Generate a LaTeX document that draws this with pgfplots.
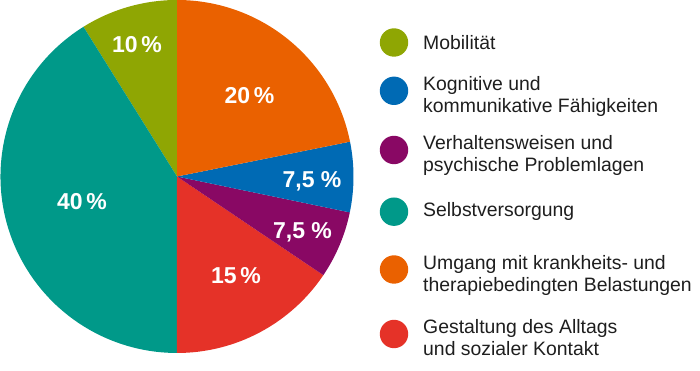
\documentclass[border=0pt]{standalone}
\usepackage{fontspec}
\setmainfont{Liberation Sans}
\usepackage{pgfplots}
\pgfplotsset{compat=1.18}
\definecolor{cMob}{RGB}{143,166,3}
\definecolor{cSelb}{RGB}{0,153,137}
\definecolor{cGest}{RGB}{229,50,40}
\definecolor{cVerh}{RGB}{137,8,100}
\definecolor{cKogn}{RGB}{0,106,180}
\definecolor{cUmg}{RGB}{234,97,0}
\definecolor{txt}{RGB}{30,30,30}
\tikzset{lab/.style={anchor=base, inner sep=0pt, text=white, font=\fontsize{23}{26}\selectfont\bfseries},
  leg/.style={anchor=base west, inner sep=0pt, text=txt, font=\fontsize{19.4}{22}\selectfont}}
\begin{document}
\begin{tikzpicture}
\begin{axis}[hide axis, scale only axis, width=700pt, height=371pt,
  xmin=0, xmax=700, ymin=0, ymax=371, clip=false]
\coordinate (BL) at (axis cs:0,0);
\coordinate (TR) at (axis cs:700,371);
% slices counter-clockwise from the top (share of the circle, in percent)
\gdef\angS{90}
\foreach \v/\c in {8.89/cMob, 41.1/cSelb, 15.57/cGest, 6.18/cVerh, 6.42/cKogn, 21.84/cUmg}{
  \pgfmathsetmacro\angE{\angS+3.6*\v}
  \edef\temp{\noexpand\fill[\c] (axis cs:177,194.5) -- ++(\angS:176.5pt) arc[start angle=\angS, end angle=\angE, radius=176.5pt] -- cycle;}
  \temp
  \xdef\angS{\angE}
}
% slice labels
\node[lab] at (axis cs:137,318) {10\,\%};
\node[lab] at (axis cs:249.5,267) {20\,\%};
\node[lab] at (axis cs:312,183) {7,5 \%};
\node[lab] at (axis cs:302.5,132) {7,5 \%};
\node[lab] at (axis cs:236,87) {15\,\%};
\node[lab] at (axis cs:82,161.7) {40\,\%};
% legend
\fill[cMob]  (axis cs:394,328.5) circle[radius=14.2pt];
\fill[cKogn] (axis cs:394,280.2) circle[radius=14.2pt];
\fill[cVerh] (axis cs:394,221)   circle[radius=14.2pt];
\fill[cSelb] (axis cs:394,159.3) circle[radius=14.2pt];
\fill[cUmg]  (axis cs:394,101.5) circle[radius=14.2pt];
\fill[cGest] (axis cs:394,37)    circle[radius=14.2pt];
\node[leg] at (axis cs:423,321.7) {Mobilität};
\node[leg] at (axis cs:423,280.3) {Kognitive und};
\node[leg] at (axis cs:423,258.3) {kommunikative Fähigkeiten};
\node[leg] at (axis cs:423,221.7) {Verhaltensweisen und};
\node[leg] at (axis cs:423,199.7) {psychische Problemlagen};
\node[leg] at (axis cs:423,154.3) {Selbstversorgung};
\node[leg] at (axis cs:423,101.7) {Umgang mit krankheits- und};
\node[leg] at (axis cs:423,79.7)  {therapiebedingten Belastungen};
\node[leg] at (axis cs:423,37.7)  {Gestaltung des Alltags};
\node[leg] at (axis cs:423,15.7)  {und sozialer Kontakt};
\end{axis}
\pgfresetboundingbox
\path[use as bounding box] (BL) rectangle (TR);
\end{tikzpicture}
\end{document}
